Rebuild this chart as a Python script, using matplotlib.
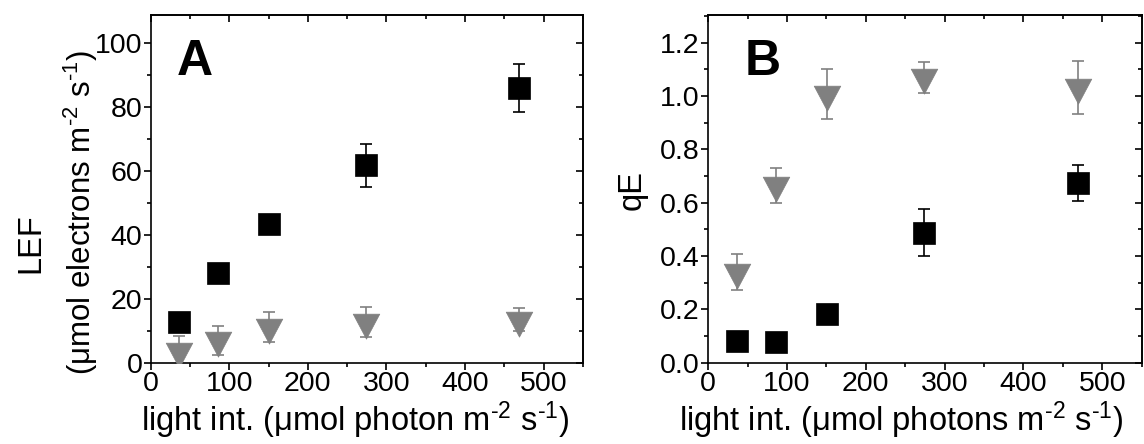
import numpy as np
import matplotlib
matplotlib.use("Agg")
import matplotlib.pyplot as plt
from matplotlib.path import Path
from matplotlib.ticker import MultipleLocator, FormatStrFormatter

plt.rcParams['font.family'] = ['Liberation Sans', 'DejaVu Sans']
plt.rcParams['mathtext.fontset'] = 'custom'
plt.rcParams['mathtext.rm'] = 'Liberation Sans'
plt.rcParams['mathtext.it'] = 'Liberation Sans'

# light intensities
light = [36, 86, 151, 274, 469]

# LEF (panel A)
lef_sq = [12.7, 28.1, 43.4, 61.8, 85.9]
lef_sq_err = [1.5, 1.5, 1.5, 6.7, 7.5]
lef_tri = [3.8, 7.0, 11.2, 12.8, 13.5]
lef_tri_err = [4.6, 4.6, 4.6, 4.7, 3.5]

# qE (panel B)
qe_sq = [0.081, 0.079, 0.183, 0.488, 0.675]
qe_sq_err = [0.01, 0.01, 0.015, 0.088, 0.067]
qe_tri = [0.340, 0.665, 1.009, 1.070, 1.032]
qe_tri_err = [0.067, 0.065, 0.094, 0.058, 0.098]

# down triangle with its centroid at the origin
tri_marker = Path([(-1, 0.627), (1, 0.627), (0, -1.255), (-1, 0.627)],
                  [Path.MOVETO, Path.LINETO, Path.LINETO, Path.CLOSEPOLY])

gray = '#808080'
unit = 'm$^{\u2010 2}$ s$^{\u2010 1}$'

fig = plt.figure(figsize=(11.44, 4.44), dpi=100)
axA = fig.add_axes([0.1317, 0.183, 0.3779, 0.784])
axB = fig.add_axes([0.619, 0.183, 0.379, 0.784])


def draw(ax, sq, sq_err, tri, tri_err):
    ax.errorbar(light, tri, yerr=tri_err, fmt='none', ecolor=gray,
                elinewidth=1.2, capsize=4, capthick=1.2, zorder=2)
    ax.errorbar(light, sq, yerr=sq_err, fmt='none', ecolor='black',
                elinewidth=1.2, capsize=4, capthick=1.2, zorder=2)
    ax.plot(light, tri, linestyle='none', marker=tri_marker, ms=24,
            color=gray, mec=gray, mew=0.5, zorder=3)
    ax.plot(light, sq, linestyle='none', marker='s', ms=15.5,
            color='black', mec='black', mew=0.5, zorder=3)


def style(ax, ymax, ymaj, ymin):
    ax.set_xlim(0, 550)
    ax.set_ylim(0, ymax)
    ax.xaxis.set_major_locator(MultipleLocator(100))
    ax.xaxis.set_minor_locator(MultipleLocator(50))
    ax.yaxis.set_major_locator(MultipleLocator(ymaj))
    ax.yaxis.set_minor_locator(MultipleLocator(ymin))
    for s in ax.spines.values():
        s.set_linewidth(1.2)
    ax.tick_params(which='both', direction='out', width=1.2, labelsize=20.5,
                   pad=1)
    ax.tick_params(which='major', length=5)
    ax.tick_params(which='minor', length=3)
    top = ax.secondary_xaxis('top')
    right = ax.secondary_yaxis('right')
    top.xaxis.set_major_locator(MultipleLocator(100))
    top.xaxis.set_minor_locator(MultipleLocator(50))
    right.yaxis.set_major_locator(MultipleLocator(ymaj))
    right.yaxis.set_minor_locator(MultipleLocator(ymin))
    for sec in (top, right):
        sec.tick_params(which='both', direction='in', width=1.2,
                        labeltop=False, labelright=False)
        sec.tick_params(which='major', length=5)
        sec.tick_params(which='minor', length=3)
        for s in sec.spines.values():
            s.set_linewidth(1.2)


draw(axA, lef_sq, lef_sq_err, lef_tri, lef_tri_err)
draw(axB, qe_sq, qe_sq_err, qe_tri, qe_tri_err)
style(axA, 109, 20, 10)
style(axB, 1.305, 0.2, 0.1)
axB.yaxis.set_major_formatter(FormatStrFormatter('%.1f'))

axA.text(0.06, 0.93, 'A', transform=axA.transAxes, fontsize=36,
         fontweight='bold', va='top', ha='left')
axB.text(0.085, 0.93, 'B', transform=axB.transAxes, fontsize=36,
         fontweight='bold', va='top', ha='left')

axA.set_xlabel('light int. (μmol photon ' + unit + ')', fontsize=23.5)
axB.set_xlabel('light int. (μmol photons ' + unit + ')', fontsize=23.5)
axA.xaxis.set_label_coords(0.473, -0.105, transform=axA.transAxes)
axB.xaxis.set_label_coords(0.445, -0.105, transform=axB.transAxes)
axA.xaxis.label.set_va('top')
axB.xaxis.label.set_va('top')

fig.text(31 / 1144, 1 - 243 / 444, 'LEF', rotation=90, fontsize=23.5,
         ha='center', va='center')
fig.text(81 / 1144, 1 - 213 / 444, '(μmol electrons ' + unit + ')',
         rotation=90, fontsize=22.5, ha='center', va='center')
fig.text(632 / 1144, 1 - 190 / 444, 'qE', rotation=90, fontsize=23.5,
         ha='center', va='center')

fig.savefig('out.png', dpi=100)
